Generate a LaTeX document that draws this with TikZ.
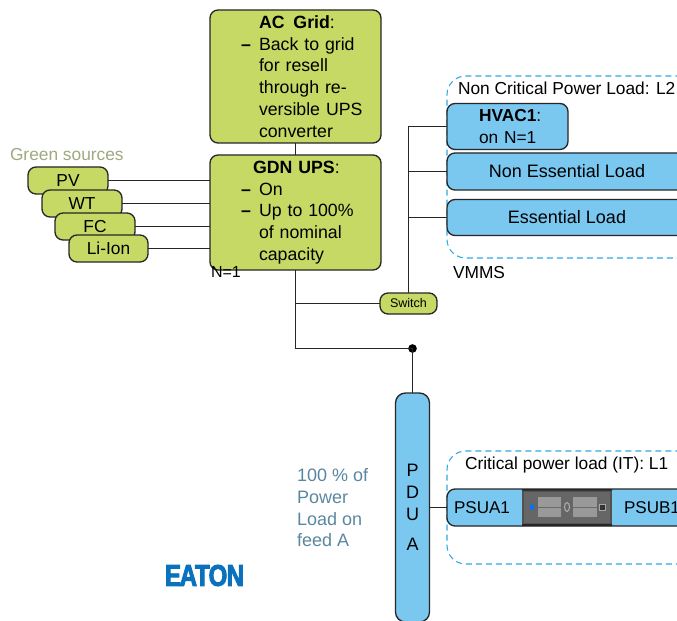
\documentclass[tikz,border=0pt]{standalone}
\usepackage{graphicx}
\usepackage{fontspec}
\setmainfont{Liberation Sans}
\newfontfamily\eatonfont[FakeBold=3,FakeStretch=0.8]{Liberation Sans Bold}
\definecolor{grn}{HTML}{C6D965}
\definecolor{blu}{HTML}{7AC7F0}
\definecolor{dashc}{HTML}{2FA9DF}
\definecolor{gtxt}{HTML}{9DA97E}
\definecolor{btxt}{HTML}{5A87A0}
\definecolor{eaton}{HTML}{0A72BC}
\newcommand{\txtline}[1]{\hspace*{36.75pt}#1}
\newcommand{\dashitem}[1]{\hspace*{23.25pt}\makebox[13.5pt][l]{\textbf{–}}#1}
\tikzset{
  span/.style n args={4}{at={({(#1+#3)/2},{(#2+#4)/2})},minimum width={(#3-#1)*0.75pt},minimum height={(#4-#2)*0.75pt}},
  box/.style={draw=black!85,line width=1pt,rounded corners=6pt,inner sep=0pt,outer sep=0pt,text=black,font=\fontsize{13.5}{16.35}\selectfont},
  gbox/.style={box,fill=grn},
  bbox/.style={box,fill=blu},
  gnote/.style={gbox,text width=128.25pt,align=left,font=\fontsize{13.3}{16.35}\selectfont},
  srcbox/.style={gbox,font=\fontsize{13}{16}\selectfont},
  wire/.style={draw=black!85,line width=0.8pt},
  dbox/.style={draw=dashc,line width=0.8pt,dash pattern=on 4.5pt off 3pt,rounded corners=14pt,inner sep=0pt,outer sep=0pt},
  lbl/.style={inner sep=0pt,outer sep=0pt,anchor=base west,text=black,font=\fontsize{13}{16.35}\selectfont},
}
\begin{document}
\begin{tikzpicture}[x=0.75pt,y=-0.75pt]
\useasboundingbox (0,0) rectangle (677,620);
\clip (0,0) rectangle (677,620);
% dashed zones
\node[dbox,span={447}{76}{760}{258}] (zoneb) {};
\node[dbox,span={447}{451}{760}{564}] (zonea) {};
% green boxes
\node[gnote,span={210}{10}{381}{143}] (ac) {\txtline{\textbf{AC\, Grid}:}\\\dashitem{Back to grid}\\\txtline{for resell}\\\txtline{through re-}\\\txtline{versible UPS}\\\txtline{converter}};
\node[gnote,span={210}{155}{381}{270}] (gdn) {\hspace*{32.25pt}\textbf{GDN UPS}:\\\dashitem{On}\\\dashitem{Up to 100\%}\\\txtline{of nominal}\\\txtline{capacity}};
\node[srcbox,span={28}{167}{108}{194}] (pv) {PV};
\node[srcbox,span={42}{190}{122}{217}] (wt) {WT};
\node[srcbox,span={55}{213}{135}{240}] (fc) {FC};
\node[srcbox,span={69}{235}{148}{262}] (li) {Li-Ion};
\node[gbox,span={380}{293}{437}{314},font=\fontsize{9.4}{11}\selectfont] (sw) {Switch};
% blue boxes
\node[bbox,span={447}{103.5}{568}{149.5},text width=90.75pt,align=left,font=\fontsize{13}{16.35}\selectfont] (hvac) {\hspace*{24pt}\textbf{HVAC1}:\\\hspace*{24pt}on N=1};
\node[bbox,span={447}{153}{687}{190}] (ne) {Non Essential Load};
\node[bbox,span={447}{199.5}{687}{235.5}] (es) {Essential Load};
\node[bbox,span={395.5}{393}{429.5}{622},rounded corners=7.5pt,align=center] (pdu) {P\\D\\U\\[6.75pt]A};
\node[bbox,span={447}{489}{700}{526}] (psu) {};
% server picture
\fill[black!68] (522,489) rectangle (612,526);
\fill[black!85] (522,489) rectangle (612,490.5) (522,524) rectangle (612,526);
\fill[black!60] (524,491.5) rectangle (610,523);
\fill[black!40] (538,497) rectangle (561,517);
\fill[black!40] (573,497) rectangle (597,517);
\draw[black!58,line width=0.5pt] (538,507) -- (561,507) (573,507) -- (597,507);
\fill[blue!55!cyan] (532,507) ellipse (2.2 and 3);
\draw[black!30,fill=black!60,line width=0.7pt] (567,507) ellipse (2.5 and 4.5);
\draw[black!35,fill=black!80,line width=0.7pt] (599,504) rectangle (605,510);
% labels
\node[lbl,font=\fontsize{12.8}{15}\selectfont] (l1) at (454,513) {PSUA1};
\node[lbl,font=\fontsize{12.8}{15}\selectfont] (l2) at (624,513) {PSUB1};
\node[lbl] (l3) at (458,95) {Non Critical Power Load: L2};
\node[lbl] (l4) at (465,469) {Critical power load (IT): L1};
\node[lbl] (l5) at (453,278) {VMMS};
\node[lbl,font=\fontsize{12}{15}\selectfont] (l6) at (211,277) {N=1};
\node[lbl,text=gtxt] (l7) at (10,160.5) {Green sources};
\node[lbl,anchor=north west,align=left,text=btxt,font=\fontsize{13.5}{16.35}\selectfont] (l8) at (297,468.5) {100 \% of\\Power\\Load on\\feed A};
\node[inner sep=0pt,outer sep=0pt,text=eaton] (logo) at (204.5,575.5) {\eatonfont\fontsize{22.5}{23}\selectfont E\kern-1pt A\kern-1.5pt T\kern-0.8pt O\kern-0.5pt N};
% connectors
\coordinate (j1) at (295.5,303.5);
\node[circle,fill=black,inner sep=0pt,minimum size=6.5pt] (dot) at (412.5,348.5) {};
\draw[wire] (ac.south) -- (gdn.north);
\draw[wire] (pv.east) -- (pv.east -| gdn.west);
\draw[wire] (wt.east) -- (wt.east -| gdn.west);
\draw[wire] (fc.east) -- (fc.east -| gdn.west);
\draw[wire] (li.east) -- (li.east -| gdn.west);
\draw[wire] (gdn.south) |- (dot.center);
\draw[wire] (dot.center) -- (pdu.north);
\draw[wire] (j1) -- (sw.west);
\draw[wire] (sw.north) |- (hvac.west);
\draw[wire] (sw.north |- ne.west) -- (ne.west);
\draw[wire] (sw.north |- es.west) -- (es.west);
\draw[wire] (pdu.east |- psu.west) -- (psu.west);
\end{tikzpicture}
\end{document}
